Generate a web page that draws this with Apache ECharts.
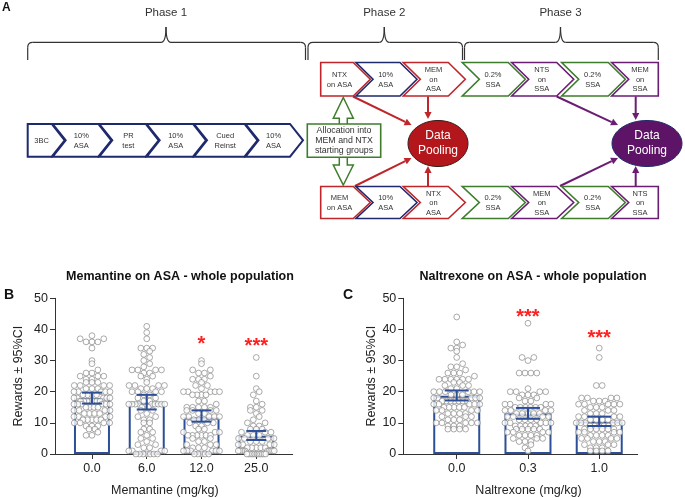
<!DOCTYPE html>
<html><head><meta charset="utf-8">
<script src="https://cdn.jsdelivr.net/npm/echarts@6/dist/echarts.min.js"></script>
<style>html,body{margin:0;padding:0;background:#fff}#c{width:685px;height:498px}</style>
</head><body><div id="c"></div>
<script>
// ---------- data ----------
const memCategories = ['0.0', '6.0', '12.0', '25.0'];
const ntxCategories = ['0.0', '0.3', '1.0'];
const memMeans  = [18.0, 16.5, 11.7, 5.9];
const memCILow  = [16.2, 14.3, 10.4, 4.5];
const memCIHigh = [19.7, 19.0, 14.0, 7.4];
const ntxMeans  = [18.7, 13.0, 10.4];
const ntxCILow  = [17.2, 11.3, 9.0];
const ntxCIHigh = [20.4, 14.8, 12.0];
const memSig  = ['', '', '*', '***'];
const memSigY = [null, null, 35.2, 34.4];
const ntxSig  = ['', '***', '***'];
const ntxSigY = [null, 43.9, 37.0];

const mem0 = [38,37,37,36,36,36,34,30,29,27,26,26,25,25,25,24,24,23,23,23,22,22,22,22,21,21,21,20,20,20,20,20,
  19,19,19,19,18,18,18,18,18,17,17,17,17,17,17,17,16,16,16,16,16,16,15,15,15,15,14,14,14,14,13,13,13,13,
  12,12,12,12,11,11,11,11,11,10,10,10,10,9,9,9,8,8,7,6,6];
const mem6 = [41,39,37,34,34,34,33,32,31,30,29,28,27,27,27,27,26,26,25,25,24,23,22,22,22,22,21,21,21,20,20,20,20,19,19,
  18,18,17,17,16,16,16,16,16,16,16,16,16,15,15,15,14,14,13,12,12,11,11,10,10,
  8,8,7,7,6,5,5,4,3,3,2,2,1,1,1,1,0,0,0,0,0,0,0];
const mem12 = [30,29,27,27,26,26,25,24,24,24,23,22,22,21,20,20,20,20,20,19,19,19,19,
  17,17,16,15,15,15,15,15,14,14,14,14,13,13,12,12,12,12,12,11,11,11,10,10,10,
  9,9,8,8,7,7,7,6,6,6,6,6,6,5,5,4,4,3,3,3,2,2,2,1,1,1,1,1,1,0,0,0,0,0];
const mem25 = [31,25,21,20,19,17,16,15,15,14,14,13,12,11,10,10,9,9,8,8,8,7,7,7,6,6,6,5,5,5,5,4,4,4,
  3,3,3,3,2,2,2,2,2,1,1,1,1,1,1,1,1,1,1,0,0,0,0,0,0,0,0,0,0,0,0];
const ntx0 = [44,36,35,34,34,33,31,29,28,28,27,26,26,26,25,24,24,24,24,24,24,23,23,22,22,22,21,21,20,20,20,20,20,20,19,19,19,
  18,18,18,18,18,17,17,17,17,17,17,17,16,16,16,16,16,15,15,15,15,15,14,14,14,14,
  13,13,13,13,12,12,12,11,11,11,10,10,10,10,10,9,9,9,8,8,8,8];
const ntx03 = [42,31,31,30,26,26,26,26,21,20,20,20,20,19,19,19,18,18,17,17,16,16,16,16,
  15,15,15,15,15,15,14,14,14,14,13,13,13,13,13,12,12,12,12,11,11,11,11,
  10,10,10,10,10,9,9,9,9,9,8,8,8,8,8,7,7,7,7,6,6,6,6,5,5,5,4,4,4,3,2,1];
const ntx10 = [34,31,22,22,18,18,18,18,17,17,17,16,16,16,16,16,15,15,15,14,14,14,13,13,13,
  12,12,12,12,11,11,11,11,10,10,10,10,10,10,9,9,9,9,9,8,8,8,8,8,8,
  7,7,7,7,6,6,6,6,5,5,5,5,4,4,4,3,3,3,2,2,2,1,1,1,1];
const memGroups = [mem0, mem6, mem12, mem25];
const ntxGroups = [ntx0, ntx03, ntx10];

// ---------- layout / style ----------
const FONT = '"Liberation Sans", Arial, Helvetica, sans-serif';
const BLUE = '#2d4f98';
const H = 498, W = 685;
const gridB = {left: 55, right: 392.3, top: 298.3, bottom: 42.3};
const gridC = {left: 403.3, right: 47.3, top: 298.3, bottom: 42.3};
const xRangeB = [-0.675, 3.665], xRangeC = [-0.75, 2.54];
const pxPerY = (H - gridB.top - gridB.bottom) / 50;
const pxPerXB = (W - gridB.left - gridB.right) / (xRangeB[1] - xRangeB[0]);
const pxPerXC = (W - gridC.left - gridC.right) / (xRangeC[1] - xRangeC[0]);

// deterministic row-binned dot layout (like a scatter dot plot)
function swarmOffsets(values, pxX, D, maxHalf) {
  const bins = {};
  values.forEach((v, i) => { const b = Math.floor(v * pxPerY / D + 0.25); (bins[b] = bins[b] || []).push(i); });
  const off = new Array(values.length).fill(0);
  Object.keys(bins).forEach(key => {
    const idx = bins[key];
    idx.sort((a, b) => values[a] - values[b] || a - b);
    const n = idx.length;
    const s = n > 1 ? Math.min(D, 2 * maxHalf / (n - 1)) : 0;
    const slots = [];
    for (let k = 0; k < n; k++) slots.push((k - (n - 1) / 2) * s);
    slots.sort((a, b) => Math.abs(a) - Math.abs(b) || a - b);
    idx.forEach((i, k) => { off[i] = slots[k] / pxX; });
  });
  return off;
}
function scatterData(groups, pxX, maxHalf) {
  const out = [];
  groups.forEach((g, gi) => {
    const off = swarmOffsets(g, pxX, 5.9, maxHalf);
    g.forEach((v, i) => out.push([gi + off[i], v]));
  });
  return out;
}

function errSeries(xi, lows, highs, capHalf) {
  return {
    type: 'custom', xAxisIndex: xi, yAxisIndex: xi, z: 5, silent: true,
    data: lows.map((l, i) => [i, l, highs[i]]),
    renderItem: (params, api) => {
      const x = api.value(0);
      const lo = api.coord([x, api.value(1)]), hi = api.coord([x, api.value(2)]);
      const st = {stroke: BLUE, lineWidth: 2};
      return {type: 'group', children: [
        {type: 'line', shape: {x1: lo[0], y1: lo[1], x2: hi[0], y2: hi[1]}, style: st},
        {type: 'line', shape: {x1: lo[0] - capHalf, y1: lo[1], x2: lo[0] + capHalf, y2: lo[1]}, style: st},
        {type: 'line', shape: {x1: hi[0] - capHalf, y1: hi[1], x2: hi[0] + capHalf, y2: hi[1]}, style: st}
      ]};
    }
  };
}
function sigSeries(xi, sig, sigY) {
  return {
    type: 'custom', xAxisIndex: xi, yAxisIndex: xi, z: 6, silent: true,
    data: sig.map((s, i) => [i, sigY[i] == null ? 0 : sigY[i]]),
    renderItem: (params, api) => {
      const t = sig[params.dataIndex];
      if (!t) return null;
      const p = api.coord([api.value(0), api.value(1)]);
      return {type: 'text', x: p[0], y: p[1], style: {text: t, fill: '#ff2020', font: 'bold 20px ' + FONT, align: 'center', verticalAlign: 'middle'}};
    }
  };
}
function xAxisDef(gi, range, cats, name, pad) {
  return {
    type: 'value', gridIndex: gi, min: range[0], max: range[1],
    splitLine: {show: false},
    axisLine: {show: true, onZero: false, lineStyle: {color: '#333', width: 1}},
    axisTick: {show: true, length: 5, customValues: cats.map((c, i) => i), lineStyle: {color: '#333'}},
    axisLabel: {customValues: cats.map((c, i) => i), formatter: v => cats[Math.round(v)], color: '#222', fontSize: 12.5, fontFamily: FONT, margin: 8},
    name: name, nameLocation: 'middle', nameGap: 30,
    nameTextStyle: {color: '#222', fontSize: 12.5, fontFamily: FONT, padding: pad}
  };
}
function yAxisDef(gi, gap) {
  return {
    type: 'value', gridIndex: gi, min: 0, max: 50, interval: 10,
    splitLine: {show: false},
    axisLine: {show: true, onZero: false, lineStyle: {color: '#333', width: 1}},
    axisTick: {show: true, length: 5, lineStyle: {color: '#333'}},
    axisLabel: {color: '#222', fontSize: 12.5, fontFamily: FONT, margin: 7},
    name: 'Rewards ± 95%CI', nameLocation: 'middle', nameGap: gap,
    nameTextStyle: {color: '#222', fontSize: 12.5, fontFamily: FONT}
  };
}

// ---------- panel A diagram ----------
const NAVY = '#1f2a6e', RED = '#c0252a', GREEN = '#3d7d2b', PURPLE = '#6b1d74';
const els = [];
function chev(L, R, T, B, d, col, txt, fl, fr, lw) {
  const M = (T + B) / 2;
  const pts = [[L, T], [R, T]];
  if (!fr) pts.push([R + d, M]);
  pts.push([R, B], [L, B]);
  if (!fl) pts.push([L + d, M]);
  els.push({type: 'polygon', shape: {points: pts}, style: {fill: '#fff', stroke: col, lineWidth: lw}, z: 10});
  const le = fl ? L : L + d * 0.6, re = fr ? R : R + d * 0.3;
  els.push({type: 'text', x: (le + re) / 2, y: M + 0.5, style: {text: txt, fill: '#333', font: '7.5px ' + FONT, align: 'center', verticalAlign: 'middle', lineHeight: 9.5}, z: 11});
}
function arrow(x1, y1, x2, y2, col) {
  const a = Math.atan2(y2 - y1, x2 - x1), L = 7, Wd = 3.6;
  const bx = x2 - L * Math.cos(a), by = y2 - L * Math.sin(a);
  els.push({type: 'line', shape: {x1: x1, y1: y1, x2: bx, y2: by}, style: {stroke: col, lineWidth: 2}, z: 9});
  els.push({type: 'polygon', shape: {points: [[x2, y2], [bx + Wd * Math.sin(a), by - Wd * Math.cos(a)], [bx - Wd * Math.sin(a), by + Wd * Math.cos(a)]]}, style: {fill: col}, z: 9});
}
function brace(x0, x1, xm) {
  const yL = 42.3, yE = 60, yP = 27, r = 5;
  const st = {stroke: '#333', lineWidth: 1.2, fill: null};
  els.push({type: 'line', shape: {x1: x0, y1: yE, x2: x0, y2: yL + r}, style: st});
  els.push({type: 'bezierCurve', shape: {x1: x0, y1: yL + r, cpx1: x0, cpy1: yL, x2: x0 + r, y2: yL}, style: st});
  els.push({type: 'line', shape: {x1: x0 + r, y1: yL, x2: xm - r, y2: yL}, style: st});
  els.push({type: 'bezierCurve', shape: {x1: xm - r, y1: yL, cpx1: xm, cpy1: yL, x2: xm, y2: yP}, style: st});
  els.push({type: 'bezierCurve', shape: {x1: xm, y1: yP, cpx1: xm, cpy1: yL, x2: xm + r, y2: yL}, style: st});
  els.push({type: 'line', shape: {x1: xm + r, y1: yL, x2: x1 - r, y2: yL}, style: st});
  els.push({type: 'bezierCurve', shape: {x1: x1 - r, y1: yL, cpx1: x1, cpy1: yL, x2: x1, y2: yL + r}, style: st});
  els.push({type: 'line', shape: {x1: x1, y1: yL + r, x2: x1, y2: yE}, style: st});
}
function txt(x, y, t, font, col, align) {
  els.push({type: 'text', x: x, y: y, style: {text: t, fill: col || '#222', font: font, align: align || 'center', verticalAlign: 'middle'}, z: 12});
}

txt(2, 8, 'A', 'bold 12px ' + FONT, '#111', 'left');
txt(166, 13, 'Phase 1', '11.5px ' + FONT, '#333');
txt(384.3, 13, 'Phase 2', '11.5px ' + FONT, '#333');
txt(560.5, 13, 'Phase 3', '11.5px ' + FONT, '#333');
brace(27.7, 305.5, 166);
brace(308, 462.5, 384.3);
brace(464.5, 658.3, 560.5);

// Phase 1 row
const p1 = [[27.7, 51.7, '3BC'], [52.7, 98.3, '10%\nASA'], [99.3, 145.7, 'PR\ntest'], [146.7, 193, '10%\nASA'], [194, 244.5, 'Cued\nReinst'], [245.5, 290, '10%\nASA']];
p1.forEach((c, i) => chev(c[0], c[1], 124, 156.7, 13, NAVY, c[2], i === 0, false, 2));

// Phase 2/3 rows
const xs = [[320.7, 353.3], [356, 400], [403.3, 448.3], [462.3, 508.3], [511.7, 556.7], [561.7, 608.3], [611.7, 658.3]];
const topTxt = ['NTX\non ASA', '10%\nASA', 'MEM\non\nASA', '0.2%\nSSA', 'NTS\non\nSSA', '0.2%\nSSA', 'MEM\non\nSSA'];
const botTxt = ['MEM\non ASA', '10%\nASA', 'NTX\non\nASA', '0.2%\nSSA', 'MEM\non\nSSA', '0.2%\nSSA', 'NTS\non\nSSA'];
const rowCols = [RED, NAVY, RED, GREEN, PURPLE, GREEN, PURPLE];
[[62.5, 96, topTxt], [186.5, 218.5, botTxt]].forEach(r => {
  xs.forEach((c, i) => chev(c[0], c[1], r[0], r[1], 17, rowCols[i], r[2][i], i === 0, i === 6, 1.6));
});

// allocation box with double arrow
els.push({type: 'polygon', shape: {points: [[343.3, 97.5], [353.3, 118.3], [347.3, 118.3], [347.3, 125], [339.3, 125], [339.3, 118.3], [333.3, 118.3]]}, style: {fill: '#fff', stroke: GREEN, lineWidth: 1.5}, z: 10});
els.push({type: 'polygon', shape: {points: [[343.3, 185], [353.3, 165], [347.3, 165], [347.3, 156.5], [339.3, 156.5], [339.3, 165], [333.3, 165]]}, style: {fill: '#fff', stroke: GREEN, lineWidth: 1.5}, z: 10});
els.push({type: 'rect', shape: {x: 307.3, y: 124, width: 73.4, height: 33.3}, style: {fill: '#fff', stroke: GREEN, lineWidth: 1.6}, z: 11});
els.push({type: 'text', x: 344, y: 141, style: {text: 'Allocation into\nMEM and NTX\nstarting groups', fill: '#333', font: '8.8px ' + FONT, align: 'center', verticalAlign: 'middle', lineHeight: 10}, z: 12});

// data pooling ellipses + arrows
arrow(353, 96.5, 411.5, 125, RED);
arrow(428, 96.5, 428, 119, RED);
arrow(355, 186, 411.5, 158, RED);
arrow(428, 186, 428, 166, RED);
arrow(556.7, 96.5, 618, 125, PURPLE);
arrow(635.7, 96.5, 635.7, 120, PURPLE);
arrow(560, 186, 618, 158, PURPLE);
arrow(635.7, 186, 635.7, 166, PURPLE);
els.push({type: 'ellipse', shape: {cx: 438, cy: 143.5, rx: 30, ry: 23}, style: {fill: '#b3171b', stroke: '#3a1a1a', lineWidth: 1}, z: 10});
els.push({type: 'ellipse', shape: {cx: 647, cy: 143.5, rx: 35, ry: 23}, style: {fill: '#5e1466', stroke: '#1f2a6e', lineWidth: 1}, z: 10});
els.push({type: 'text', x: 438, y: 143.5, style: {text: 'Data\nPooling', fill: '#fff', font: '12px ' + FONT, align: 'center', verticalAlign: 'middle', lineHeight: 15}, z: 12});
els.push({type: 'text', x: 647, y: 143.5, style: {text: 'Data\nPooling', fill: '#fff', font: '12px ' + FONT, align: 'center', verticalAlign: 'middle', lineHeight: 15}, z: 12});

// panel letters
txt(4, 295, 'B', 'bold 14px ' + FONT, '#111', 'left');
txt(343, 295, 'C', 'bold 14px ' + FONT, '#111', 'left');

// ---------- chart ----------
const chart = echarts.init(document.getElementById('c'), null, {renderer: 'canvas'});
const ptStyle = {color: '#fff', borderColor: '#7a7a7a', borderWidth: 0.8};
chart.setOption({
  animation: false,
  backgroundColor: '#fff',
  title: [
    {text: 'Memantine on ASA - whole population', left: 175, top: 265, textAlign: 'center', textStyle: {fontSize: 12.5, fontWeight: 'bold', color: '#111', fontFamily: FONT}},
    {text: 'Naltrexone on ASA - whole population', left: 528, top: 265, textAlign: 'center', textStyle: {fontSize: 12.5, fontWeight: 'bold', color: '#111', fontFamily: FONT}}
  ],
  grid: [gridB, gridC],
  xAxis: [xAxisDef(0, xRangeB, memCategories, 'Memantine (mg/kg)', [0, 18, 0, 0]),
          xAxisDef(1, xRangeC, ntxCategories, 'Naltrexone (mg/kg)', [0, 0, 0, 16])],
  yAxis: [yAxisDef(0, 30), yAxisDef(1, 25)],
  series: [
    {type: 'bar', xAxisIndex: 0, yAxisIndex: 0, z: 2, barWidth: 36, silent: true,
     data: memMeans.map((m, i) => [i, m]), itemStyle: {color: 'rgba(255,255,255,0)', borderColor: BLUE, borderWidth: 2}},
    {type: 'bar', xAxisIndex: 1, yAxisIndex: 1, z: 2, barWidth: 47, silent: true,
     data: ntxMeans.map((m, i) => [i, m]), itemStyle: {color: 'rgba(255,255,255,0)', borderColor: BLUE, borderWidth: 2}},
    {type: 'scatter', xAxisIndex: 0, yAxisIndex: 0, z: 3, symbol: 'circle', symbolSize: 5.8, silent: true,
     data: scatterData(memGroups, pxPerXB, 18), itemStyle: ptStyle},
    {type: 'scatter', xAxisIndex: 1, yAxisIndex: 1, z: 3, symbol: 'circle', symbolSize: 5.8, silent: true,
     data: scatterData(ntxGroups, pxPerXC, 23), itemStyle: ptStyle},
    errSeries(0, memCILow, memCIHigh, 10),
    errSeries(1, ntxCILow, ntxCIHigh, 12),
    sigSeries(0, memSig, memSigY),
    sigSeries(1, ntxSig, ntxSigY)
  ],
  graphic: els
});
</script></body></html>
